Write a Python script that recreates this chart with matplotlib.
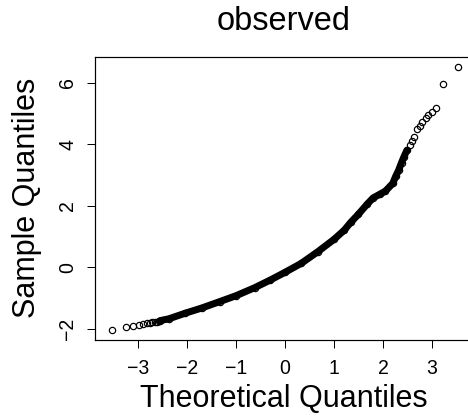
import matplotlib
matplotlib.use("Agg")
import matplotlib.pyplot as plt
import numpy as np

plt.rcParams['font.family'] = ['Liberation Sans', 'DejaVu Sans']

# normal QQ plot of the observed values
# lower tail (individual points)
low_theo = [-3.54, -3.25, -3.10, -2.98, -2.89, -2.82, -2.76, -2.71, -2.66, -2.62, -2.58]
low_samp = [-2.05, -1.96, -1.92, -1.87, -1.85, -1.83, -1.82, -1.80, -1.79, -1.77, -1.76]

# bulk of the sample, where the points overlap into a solid band
mid_theo = [-2.55, -2.37, -2.04, -1.70, -1.33, -1.00, -0.62, -0.30, 0.00, 0.33,
            0.67, 1.00, 1.21, 1.34, 1.50, 1.68, 1.80, 1.95, 2.05, 2.20,
            2.26, 2.32, 2.38, 2.43, 2.49]
mid_samp = [-1.74, -1.68, -1.50, -1.33, -1.12, -0.93, -0.67, -0.42, -0.17, 0.12,
            0.50, 0.90, 1.20, 1.45, 1.72, 2.05, 2.25, 2.38, 2.47, 2.72,
            2.95, 3.15, 3.40, 3.59, 3.80]

# upper tail (individual points)
high_theo = [2.55, 2.60, 2.63, 2.70, 2.75, 2.80, 2.87, 2.93, 3.00, 3.09, 3.22, 3.53]
high_samp = [3.97, 4.10, 4.24, 4.49, 4.59, 4.73, 4.84, 4.94, 5.03, 5.16, 5.94, 6.49]

W, H = 468, 417
fig = plt.figure(figsize=(W / 72, H / 72), dpi=72)
# plot region in pixels: left 95, right 475 (runs past the edge), top 57, bottom 340
ax = fig.add_axes([95 / W, (H - 340) / H, (475 - 95) / W, (340 - 57) / H])

ax.plot(mid_theo, mid_samp, color='black', lw=7, solid_capstyle='round',
        solid_joinstyle='round', zorder=2)
for xs, ys in [(low_theo, low_samp), (mid_theo, mid_samp), (high_theo, high_samp)]:
    ax.plot(xs, ys, 'o', ms=6.3, mfc='none', mec='black', mew=1.2, zorder=3)

ax.set_xlim(-3.88, 3.88)
ax.set_ylim(-2.37, 6.83)
ax.set_xticks([-3, -2, -1, 0, 1, 2, 3])
ax.set_yticks([-2, 0, 2, 4, 6])
ax.set_xticklabels(['\u22123', '\u22122', '\u22121', '0', '1', '2', '3'])
ax.set_yticklabels(['\u22122', '0', '2', '4', '6'], rotation=90, va='center')
ax.tick_params(direction='out', length=8, width=1, labelsize=19.5, color='black')
ax.tick_params(axis='x', pad=11)
ax.tick_params(axis='y', pad=10)
for s in ax.spines.values():
    s.set_linewidth(1.2)
    s.set_color('black')

fig.text(283.7 / W, 1 - 21 / H, 'observed', ha='center', va='center', fontsize=32.5)
fig.text(283.7 / W, 1 - 399 / H, 'Theoretical Quantiles', ha='center', va='center', fontsize=30.5)
fig.text(27 / W, 1 - 198 / H, 'Sample Quantiles', ha='center', va='center',
         rotation=90, fontsize=30.5)

fig.savefig('out.png', dpi=72, facecolor='white')
